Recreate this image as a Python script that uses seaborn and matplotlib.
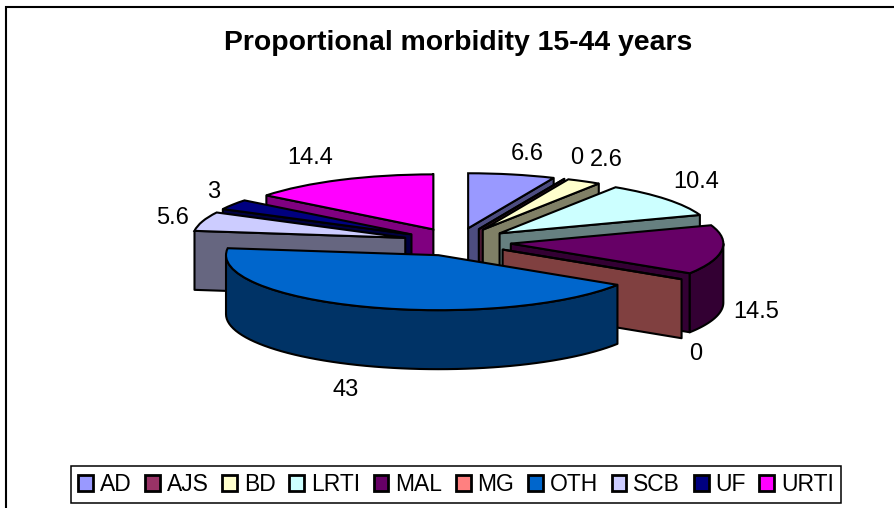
import numpy as np
import matplotlib
matplotlib.use("Agg")
import matplotlib.pyplot as plt
from matplotlib.patches import Patch, Polygon, Rectangle
import seaborn as sns

# values
categories = ["AD", "AJS", "BD", "LRTI", "MAL", "MG", "OTH", "SCB", "UF", "URTI"]
values = [6.6, 0, 2.6, 10.4, 14.5, 0, 43, 5.6, 3, 14.4]
value_labels = ["6.6", "0", "2.6", "10.4", "14.5", "0", "43", "5.6", "3", "14.4"]
colors = ["#9999FF", "#993366", "#FFFFCC", "#CCFFFF", "#660066",
          "#FF8080", "#0066CC", "#CCCCFF", "#000080", "#FF00FF"]
title = "Proportional morbidity 15-44 years"

W, H = 894, 508
# pie centre and radii on the canvas, in pixels
CX, CY, RX, RY = 457, 242, 212.5, 55
DEPTH = 59 / RY
EXPLODE = 0.255
LW = 1.5

sns.set_theme(style="white")
plt.rcParams["font.family"] = ["Liberation Sans", "DejaVu Sans"]
palette = sns.color_palette(colors)
shaded = [tuple(c * 0.5 for c in col) for col in palette]

fig = plt.figure(figsize=(W / 100, H / 100), dpi=100, facecolor="white")
ax = fig.add_axes([0, 0, 1, 1])

wedges, _ = ax.pie(values, colors=palette, startangle=90, counterclock=False,
                   explode=[EXPLODE] * len(values),
                   wedgeprops=dict(edgecolor="black", linewidth=LW))

# one data unit is RX pixels across and RY pixels down, which squashes the pie
ax.set_aspect("auto")
ax.set_xlim(-CX / RX, (W - CX) / RX)
ax.set_ylim((CY - H) / RY, CY / RY)
ax.set_frame_on(False)


def add_wall(points, color, z):
    top = np.asarray(points)
    bottom = top[::-1] - [0, DEPTH]
    ax.add_patch(Polygon(np.vstack([top, bottom]), closed=True, facecolor=color,
                         edgecolor="black", linewidth=LW, joinstyle="round", zorder=z))


def rim(wedge, angle):
    t = np.radians(angle)
    return np.array(wedge.center) + wedge.r * np.array([np.cos(t), np.sin(t)])


# paint from the back of the pie to the front
mids = [np.radians((w.theta1 + w.theta2) / 2) for w in wedges]
order = sorted(range(len(wedges)), key=lambda i: -np.sin(mids[i]))

for rank, i in enumerate(order):
    w = wedges[i]
    z = 2 + rank * 0.1
    empty = values[i] == 0
    # side faces along the two cut edges, only those facing the viewer
    for angle, sign in ((w.theta1, 1), (w.theta2, -1)):
        if empty or sign * np.cos(np.radians(angle)) > 0:
            add_wall([w.center, rim(w, angle)], shaded[i], z)
            if empty:
                break
    # outer curved face, the part on the near half of the ellipse
    a1 = (w.theta1 % 360)
    a2 = a1 + (w.theta2 - w.theta1)
    for lo, hi in ((180, 360), (540, 720)):
        s, e = max(a1, lo), min(a2, hi)
        if e > s:
            arc = [rim(w, a) for a in np.linspace(s, e, 60)]
            add_wall(arc, shaded[i], z + 0.01)
    w.set_zorder(z + 0.02)

# data labels, centre of each text in pixels
label_xy = [(527, 153.5), (577, 158.5), (606, 160.5), (696, 182.5), (756, 311.5),
            (696, 353.5), (346, 389.5), (173, 217.5), (214, 191.5), (310, 158.5)]
for text, (x, y) in zip(value_labels, label_xy):
    fig.text(x / W, 1 - y / H, text, ha="center", va="center", fontsize=17, color="black")

fig.text(458 / W, 1 - 43 / H, title, ha="center", va="center", fontsize=20.4,
         fontweight="bold", color="black")

# outer chart frame, its right and bottom sides run off the canvas
fig.add_artist(Rectangle((6 / W, -0.1), 1, 1 - 7 / H + 0.1, transform=fig.transFigure,
                         fill=False, edgecolor="black", linewidth=1.5))

handles = [Patch(facecolor=c, edgecolor="black", linewidth=2) for c in palette]
leg = fig.legend(handles, categories, ncol=len(categories), loc="center",
                 bbox_to_anchor=(456 / W, 1 - 484.5 / H), fontsize=16.5, frameon=True,
                 fancybox=False, edgecolor="black", framealpha=1, labelcolor="black",
                 handlelength=0.65, handleheight=0.65, handletextpad=0.3,
                 columnspacing=0.59, borderpad=0.3, borderaxespad=0)
leg.get_frame().set_linewidth(1.1)

fig.savefig("out.png", dpi=100)
